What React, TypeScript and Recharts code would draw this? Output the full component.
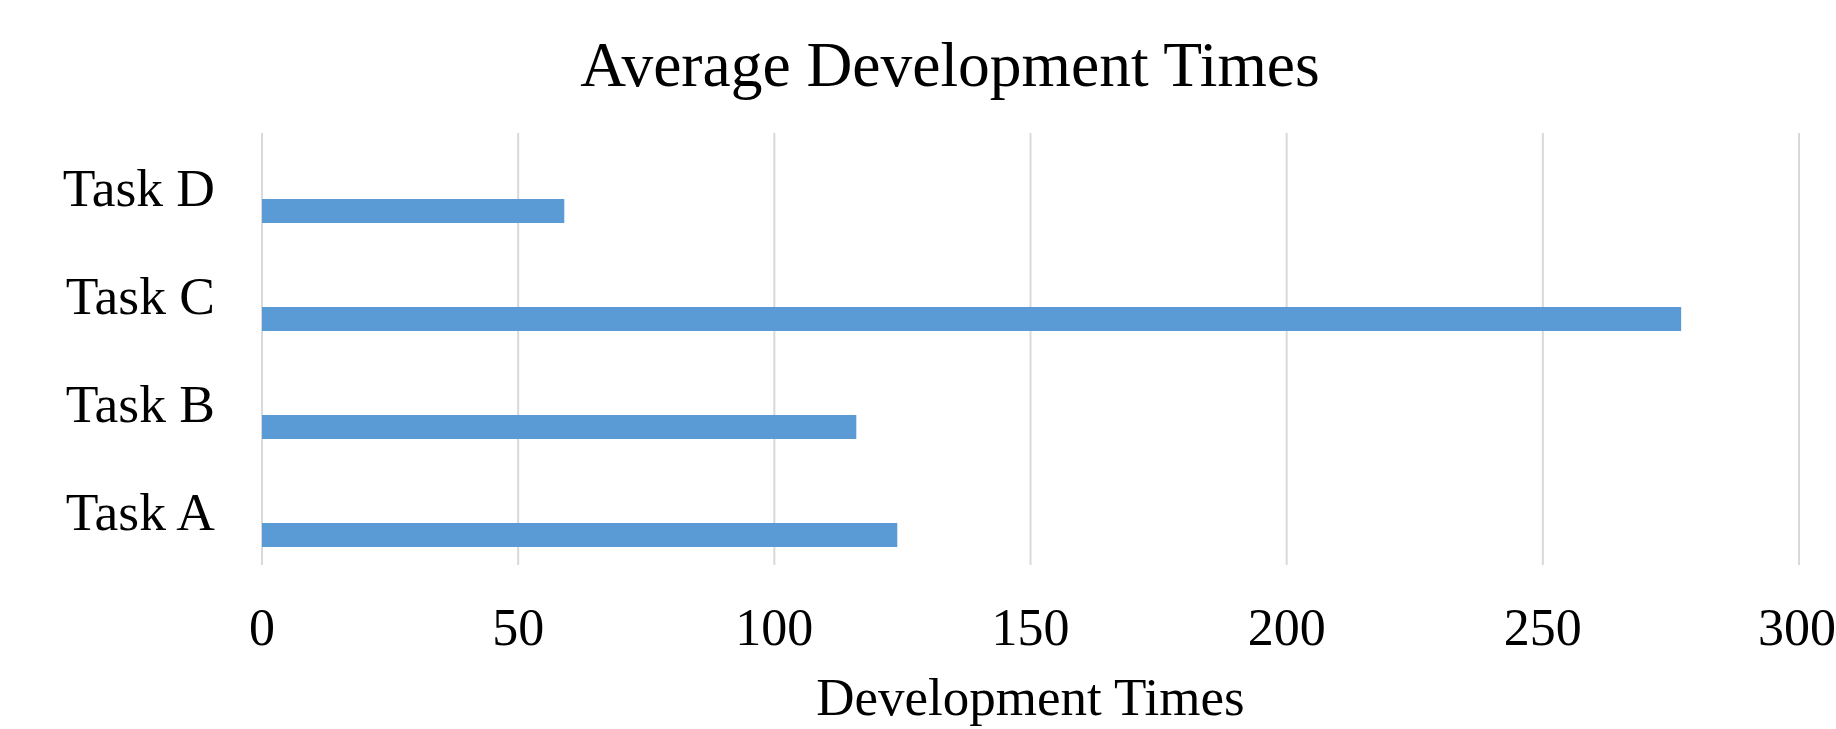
import React from "react";
import {
  Bar,
  BarChart,
  CartesianGrid,
  Label,
  XAxis,
  YAxis,
} from "recharts";

const tasks = ["Task A", "Task B", "Task C", "Task D"];
const devTimes = [124, 116, 277, 59];
// empty companion series (Excel-style offset slot above each bar)
const emptySlot = [null, null, null, null];
const xTicks = [0, 50, 100, 150, 200, 250, 300];

const FONT = '"Liberation Serif", "Times New Roman", serif';

// top-to-bottom order in a vertical layout: Task D first
const chartData = tasks
  .map((name, i) => ({ name, slot: emptySlot[i], value: devTimes[i] }))
  .reverse();

export default function App() {
  return (
    <div
      style={{
        position: "fixed",
        left: 0,
        top: 0,
        width: 1836,
        height: 729,
        background: "#fff",
      }}
    >
      <div
        style={{
          position: "absolute",
          left: 950,
          top: 33,
          transform: "translateX(-50%)",
          fontFamily: FONT,
          fontSize: 63.5,
          lineHeight: "63px",
          whiteSpace: "nowrap",
          color: "#000",
        }}
      >
        Average Development Times
      </div>
      <BarChart
        width={1836}
        height={729}
        data={chartData}
        layout="vertical"
        margin={{ top: 133, right: 37, bottom: 0, left: 0 }}
        barSize={24}
        barGap={23}
      >
        <CartesianGrid
          horizontal={false}
          stroke="#d9d9d9"
          strokeWidth={2}
        />
        <XAxis
          type="number"
          domain={[0, 300]}
          ticks={xTicks}
          axisLine={false}
          tickLine={false}
          tickSize={0}
          tickMargin={43}
          height={164}
          tick={{ fontFamily: FONT, fontSize: 52, fill: "#000" }}
        >
          <Label
            value="Development Times"
            position="insideBottom"
            offset={14}
            style={{ fontFamily: FONT, fontSize: 53, fill: "#000" }}
          />
        </XAxis>
        <YAxis
          type="category"
          dataKey="name"
          width={262}
          axisLine={false}
          tickLine={false}
          tickSize={0}
          tickMargin={47}
          tick={{ fontFamily: FONT, fontSize: 53.5, fill: "#000" }}
        />
        <Bar dataKey="slot" fill="#5b9bd5" isAnimationActive={false} />
        <Bar dataKey="value" fill="#5b9bd5" isAnimationActive={false} />
      </BarChart>
    </div>
  );
}
